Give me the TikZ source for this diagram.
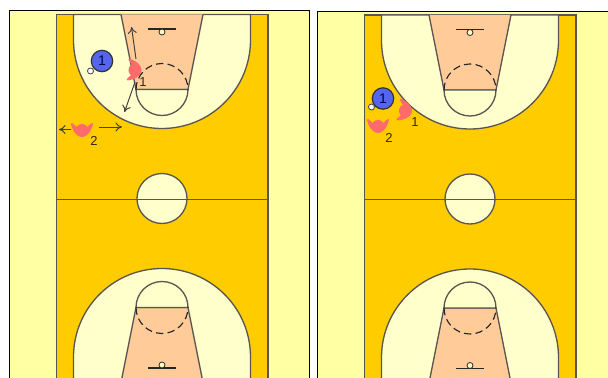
\documentclass[tikz,border=0pt]{standalone}
\usepackage{fontspec}
\setmainfont{Liberation Sans}
\usepackage{xcolor}
\usetikzlibrary{arrows.meta}

\definecolor{paleyellow}{HTML}{FFFFA3}
\definecolor{courtgold}{HTML}{FFCC00}
\definecolor{creamzone}{HTML}{FFFFCC}
\definecolor{keypeach}{HTML}{FFCC99}
\definecolor{courtline}{HTML}{5A5550}
\definecolor{salmon}{HTML}{FF6A6A}
\definecolor{ballblue}{HTML}{5566EE}

\tikzset{
  courtstroke/.style={draw=courtline, line width=0.75pt},
  moveline/.style={draw=black!75, line width=0.55pt, -{To[length=1.3mm,width=1.8mm]}},
  jersey/.style={font=\fontsize{7.4}{8}\selectfont, text=black!70!brown, inner sep=0pt},
  attacker/.style={circle, fill=ballblue, draw=black!80, line width=0.7pt, minimum size=12.2pt, inner sep=0pt, font=\fontsize{8}{8}\selectfont, text=black!70!blue},
  ballmark/.style={draw=black!70, fill=white, line width=0.5pt},
  guard/.pic={
    \fill[salmon] (0,1.5) circle (6.5);
    \filldraw[salmon, line width=1.1pt, line join=round] (-10,-5) to[out=-75, in=180] (0,6.5) to[out=0, in=-105] (10,-5) to[out=-140, in=0] (0,1) to[out=180, in=-40] cycle;
  }
}

\begin{document}
\begin{tikzpicture}[x=0.02cm, y=-0.02cm]
  \useasboundingbox (0,0) rectangle (608,378);
  \clip (0,0) rectangle (608,378);
  \fill[white] (0,0) rectangle (608,378);

  % Two half-court panels
  \foreach \dx/\dy/\wide in {0/0/300, 308/0.5/320} {
    \begin{scope}[shift={(\dx,\dy)}]
      \draw[fill=paleyellow, draw=black, line width=0.7pt] (9.5,10.8) rectangle (9.5+\wide,400);
      \draw[courtstroke, fill=courtgold] (56.5,14.5) rectangle (268,400);

      % Centre circle and halfway line
      \draw[courtstroke, fill=creamzone] (162,198.5) circle (25);
      \draw[courtstroke] (56.5,199.3) -- (268,199.3);

      % Both ends of the court
      \foreach \flip in {1,-1} {
        \begin{scope}[shift={(162,198.5)}, yscale=\flip]
          \draw[courtstroke, fill=creamzone] (-88.5,-184) -- (-88.5,-158.5) arc[start angle=180, end angle=0, radius=88.5] -- (88.5,-184) -- cycle;
          \draw[courtstroke, fill=keypeach] (-41,-184) -- (-26,-109) -- (26,-109) -- (41,-184);
          \draw[courtstroke, fill=creamzone] (-26,-109) arc[start angle=180, end angle=0, radius=26] -- cycle;
          \draw[draw=black!85, line width=0.65pt, dash pattern=on 4.2pt off 2.4pt] (-26,-109) arc[start angle=180, end angle=360, radius=26];
          \draw[draw=black!85, line width=0.6pt] (-14,-169.5) -- (14,-169.5);
          \draw[draw=black!85, line width=0.45pt, fill=creamzone] (0,-166.5) circle (3);
        \end{scope}
      }
    \end{scope}
  }

  % Left panel: players and their moves
  \node[attacker] (attackA) at (102,61) {1};
  \draw[ballmark] (90.5,71) circle (3);
  \pic[rotate=85] at (133.5,70) {guard};
  \pic at (82,129) {guard};
  \node[jersey] (guardoneA) at (143,82) {1};
  \node[jersey] (guardtwoA) at (94,141) {2};
  \coordinate (upfrom) at (136,59);
  \coordinate (upto) at (131.5,27);
  \coordinate (downfrom) at (135,82);
  \coordinate (downto) at (124.5,112);
  \coordinate (leftfrom) at (71,129.5);
  \coordinate (leftto) at (59,129.5);
  \coordinate (rightfrom) at (99,127);
  \coordinate (rightto) at (122,127);
  \draw[moveline] (upfrom) -- (upto);
  \draw[moveline] (downfrom) -- (downto);
  \draw[moveline] (leftfrom) -- (leftto);
  \draw[moveline] (rightfrom) -- (rightto);

  % Right panel: players
  \node[attacker] (attackB) at (383,98.5) {1};
  \draw[ballmark] (371.5,107) circle (3);
  \pic[rotate=80] at (404,110.5) {guard};
  \pic at (378,125) {guard};
  \node[jersey] (guardoneB) at (415,122) {1};
  \node[jersey] (guardtwoB) at (389,138) {2};
\end{tikzpicture}
\end{document}
